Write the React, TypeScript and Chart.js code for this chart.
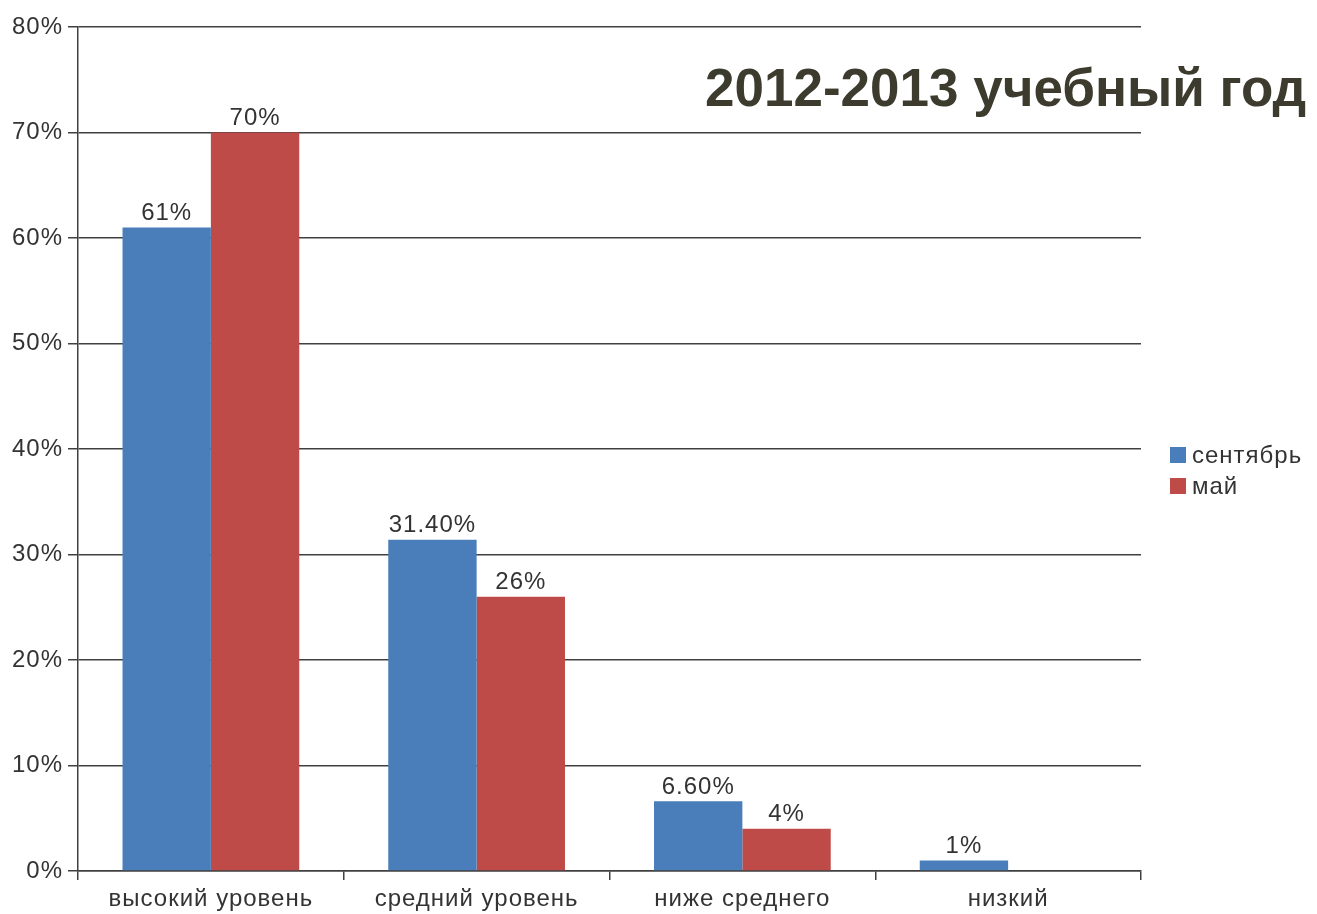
import React, { useEffect, useRef } from "react";
import { Chart, registerables } from "chart.js";

Chart.register(...registerables);

const categories = ["высокий уровень", "средний уровень", "ниже среднего", "низкий"];
const septemberValues = [61, 31.4, 6.6, 1];
const mayValues = [70, 26, 4, null];
const septemberLabels = ["61%", "31.40%", "6.60%", "1%"];
const mayLabels = ["70%", "26%", "4%", ""];
const seriesNames = ["сентябрь", "май"];
const yTicks = [0, 10, 20, 30, 40, 50, 60, 70, 80];
const title = "2012-2013 учебный год";

const BLUE = "#4a7ebb";
const RED = "#be4b48";
const FONT = "'Liberation Sans', Arial, sans-serif";

const spacingPlugin = {
  id: "letterSpacing",
  beforeDraw(chart: any) {
    (chart.ctx as any).letterSpacing = "1px";
  },
};

const valueLabelPlugin = {
  id: "valueLabels",
  afterDatasetsDraw(chart: any) {
    const ctx = chart.ctx;
    const texts = [septemberLabels, mayLabels];
    ctx.save();
    (ctx as any).letterSpacing = "1px";
    ctx.font = `24px ${FONT}`;
    ctx.fillStyle = "#333333";
    ctx.textAlign = "center";
    ctx.textBaseline = "bottom";
    chart.data.datasets.forEach((_ds: any, di: number) => {
      const meta = chart.getDatasetMeta(di);
      meta.data.forEach((el: any, i: number) => {
        const t = texts[di][i];
        if (!t) return;
        ctx.fillText(t, el.x, el.y - 2);
      });
    });
    ctx.restore();
  },
};

export default function App() {
  const ref = useRef<HTMLCanvasElement | null>(null);

  useEffect(() => {
    if (!ref.current) return;
    const chart = new Chart(ref.current, {
      type: "bar",
      data: {
        labels: categories,
        datasets: [
          { label: seriesNames[0], data: septemberValues, backgroundColor: BLUE },
          { label: seriesNames[1], data: mayValues as any, backgroundColor: RED },
        ],
      },
      options: {
        animation: false,
        responsive: false,
        devicePixelRatio: 1,
        layout: { padding: { top: 27, right: 176, left: 0, bottom: 0 } },
        datasets: { bar: { categoryPercentage: 0.665, barPercentage: 1.0 } },
        plugins: {
          legend: { display: false },
          tooltip: { enabled: false },
          title: { display: false },
        },
        scales: {
          x: {
            grid: {
              offset: true,
              drawOnChartArea: false,
              drawTicks: true,
              tickLength: 9,
              color: "#404040",
              lineWidth: 1.5,
            },
            border: { color: "#404040", width: 1.5 },
            ticks: { color: "#333333", font: { family: FONT, size: 24 }, padding: 5 },
            afterFit: (s: any) => {
              s.height = 43;
            },
          },
          y: {
            min: 0,
            max: 80,
            afterBuildTicks: (s: any) => {
              s.ticks = yTicks.map((v) => ({ value: v }));
            },
            grid: { color: "#404040", lineWidth: 1.5, tickLength: 10 },
            border: { color: "#404040", width: 1.5 },
            ticks: {
              color: "#333333",
              font: { family: FONT, size: 24 },
              padding: 5,
              callback: (v: any) => `${v}%`,
            },
            afterFit: (s: any) => {
              s.width = 78;
            },
          },
        },
      },
      plugins: [spacingPlugin, valueLabelPlugin],
    });
    return () => chart.destroy();
  }, []);

  return (
    <div style={{ position: "absolute", left: 0, top: 0, width: 1317, height: 914, background: "#fff" }}>
      <canvas ref={ref} width={1317} height={914} style={{ display: "block" }} />
      <div
        style={{
          position: "absolute",
          left: 705,
          top: 61,
          fontFamily: FONT,
          fontWeight: "bold",
          fontSize: 53,
          lineHeight: "53px",
          color: "#3c3b2e",
          whiteSpace: "nowrap",
        }}
      >
        {title}
      </div>
      {seriesNames.map((name, i) => (
        <div
          key={name}
          style={{
            position: "absolute",
            left: 1170,
            top: 443 + i * 31,
            height: 24,
            display: "flex",
            alignItems: "center",
            fontFamily: FONT,
            fontSize: 24,
            letterSpacing: "1px",
            color: "#333333",
          }}
        >
          <span
            style={{
              display: "inline-block",
              width: 16,
              height: 16,
              background: i === 0 ? BLUE : RED,
              marginRight: 6,
            }}
          />
          {name}
        </div>
      ))}
    </div>
  );
}
